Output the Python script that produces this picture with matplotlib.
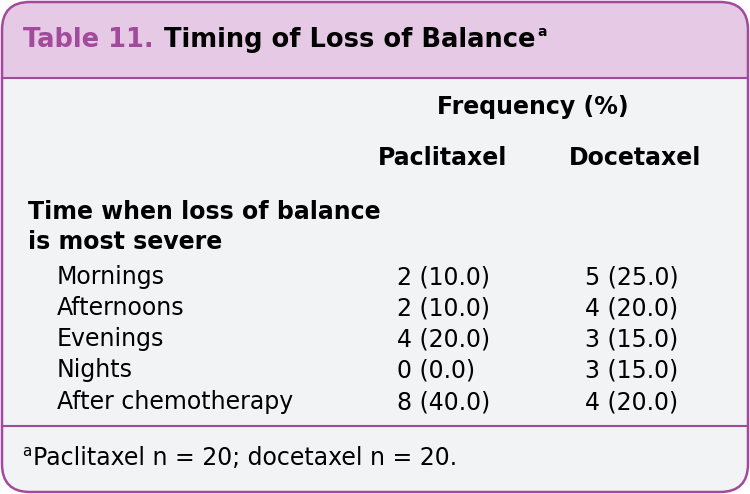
import matplotlib
matplotlib.use("Agg")
import matplotlib.pyplot as plt
from matplotlib.patches import FancyBboxPatch, Rectangle

title_num = "Table 11."
title_text = "Timing of Loss of Balance"
group_header = "Frequency (%)"
columns = ["Paclitaxel", "Docetaxel"]
section = ["Time when loss of balance", "is most severe"]
rows = ["Mornings", "Afternoons", "Evenings", "Nights", "After chemotherapy"]
pacli = ["2 (10.0)", "2 (10.0)", "4 (20.0)", "0 (0.0)", "8 (40.0)"]
doce = ["5 (25.0)", "4 (20.0)", "3 (15.0)", "3 (15.0)", "4 (20.0)"]
footnote = "Paclitaxel n = 20; docetaxel n = 20."

PURPLE = "#a24b9c"
PINK = "#e6c9e4"
GRAY = "#f2f3f4"
FONT = "DejaVu Sans"

fig = plt.figure(figsize=(7.5, 4.94), dpi=100)
ax = fig.add_axes([0, 0, 1, 1])
ax.set_xlim(0, 750)
ax.set_ylim(494, 0)
ax.axis("off")

r = 28
box = FancyBboxPatch((2, 2), 746, 490, boxstyle=f"round,pad=0,rounding_size={r}",
                     fc=GRAY, ec="none", zorder=1)
ax.add_patch(box)
head = FancyBboxPatch((2, 2), 746, 490, boxstyle=f"round,pad=0,rounding_size={r}",
                      fc=PINK, ec="none", zorder=2)
ax.add_patch(head)
clip = Rectangle((0, 0), 750, 78, transform=ax.transData)
head.set_clip_path(clip)
border = FancyBboxPatch((2, 2), 746, 490, boxstyle=f"round,pad=0,rounding_size={r}",
                        fc="none", ec=PURPLE, lw=1.8, zorder=5)
ax.add_patch(border)
ax.plot([2, 748], [78, 78], color=PURPLE, lw=1.5, zorder=4)
ax.plot([2, 748], [426, 426], color=PURPLE, lw=1.5, zorder=4)

ax.text(23, 40, title_num, color=PURPLE, fontsize=18.5, fontweight="bold",
        family=FONT, va="center", ha="left", zorder=6)
tt = ax.text(164, 40, title_text, color="black", fontsize=18.5, fontweight="bold",
             family=FONT, va="center", ha="left", zorder=6)
fig.canvas.draw()
bb = tt.get_window_extent(fig.canvas.get_renderer())
x_end = ax.transData.inverted().transform((bb.x1, bb.y1))[0]
ax.text(x_end + 2, 32, "a", color="black", fontsize=10, fontweight="bold",
        family=FONT, va="center", ha="left", zorder=6)

body = 17
ax.text(533, 107, group_header, fontsize=body, fontweight="bold", family=FONT,
        ha="center", va="center", zorder=6)
ax.text(443, 158, columns[0], fontsize=body, fontweight="bold", family=FONT,
        ha="center", va="center", zorder=6)
ax.text(635, 158, columns[1], fontsize=body, fontweight="bold", family=FONT,
        ha="center", va="center", zorder=6)
ax.text(28, 212, section[0], fontsize=body, fontweight="bold", family=FONT,
        ha="left", va="center", zorder=6)
ax.text(28, 242, section[1], fontsize=body, fontweight="bold", family=FONT,
        ha="left", va="center", zorder=6)

ys = [277, 308, 339, 370, 402]
for y, lab, p, d in zip(ys, rows, pacli, doce):
    ax.text(57, y, lab, fontsize=body, family=FONT, ha="left", va="center", zorder=6)
    ax.text(397, y, p, fontsize=body, family=FONT, ha="left", va="center", zorder=6)
    ax.text(585, y, d, fontsize=body, family=FONT, ha="left", va="center", zorder=6)

ax.text(22, 451, "a", fontsize=11, family=FONT, ha="left", va="center", zorder=6)
ax.text(33, 458, footnote, fontsize=body, family=FONT, ha="left", va="center", zorder=6)

fig.savefig("out.png", dpi=100)
